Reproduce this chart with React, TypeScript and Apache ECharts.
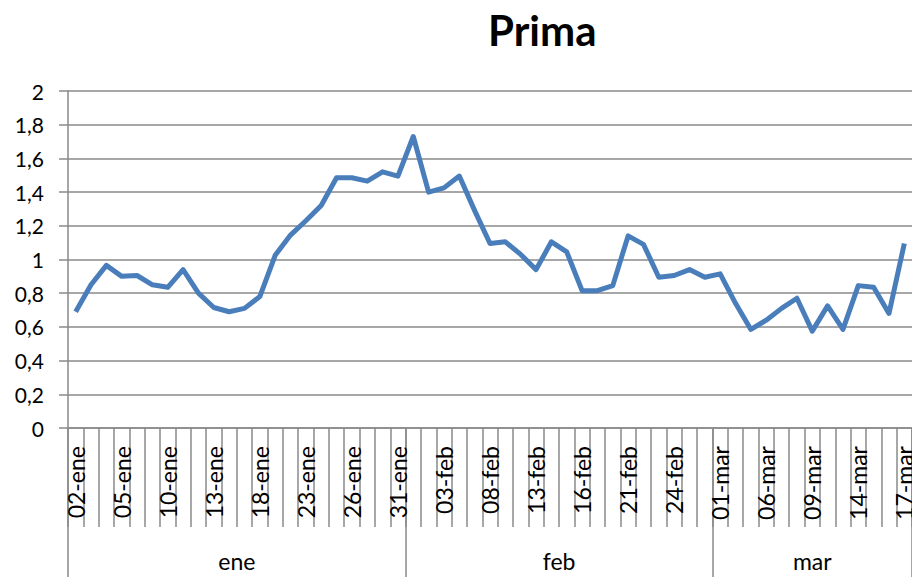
import React, { useEffect, useRef } from 'react';
import * as echarts from 'echarts';

const months = ['ene', 'feb', 'mar'];
const janDays = ['02', '03', '04', '05', '06', '09', '10', '11', '12', '13', '16', '17', '18', '19', '20', '23', '24', '25', '26', '27', '30', '31'];
const febDays = ['01', '02', '03', '06', '07', '08', '09', '10', '13', '14', '15', '16', '17', '20', '21', '22', '23', '24', '27', '28'];
const marDays = ['01', '02', '05', '06', '07', '08', '09', '12', '13', '14', '15', '16', '17'];
const monthDays = [janDays, febDays, marDays];

const values = [
  0.69, 0.85, 0.965, 0.9, 0.905, 0.85, 0.835, 0.94, 0.8, 0.715, 0.69, 0.71, 0.78, 1.025, 1.145, 1.23, 1.32, 1.485, 1.485, 1.465, 1.52, 1.495,
  1.73, 1.4, 1.425, 1.495, 1.29, 1.095, 1.105, 1.03, 0.94, 1.105, 1.045, 0.815, 0.815, 0.845, 1.14, 1.09, 0.895, 0.905, 0.94, 0.895,
  0.915, 0.74, 0.585, 0.64, 0.71, 0.77, 0.575, 0.725, 0.585, 0.845, 0.835, 0.68, 1.095,
];

const yTicks = { min: 0, max: 2, interval: 0.2 };

const dayCategories: string[] = [];
monthDays.forEach((days, m) => days.forEach((d) => dayCategories.push(d + '-' + months[m])));

// month level: half-category slots so that boundaries and month centres fall on points
const monthAxisData: string[] = new Array(dayCategories.length * 2 + 1).fill('');
const boundaries = new Set<number>();
let start = 0;
monthDays.forEach((days, m) => {
  boundaries.add(start * 2);
  monthAxisData[start * 2 + days.length] = months[m];
  start += days.length;
});
boundaries.add(start * 2);

const FONT = 'Lato, "Open Sans", sans-serif';
const GRAY = '#8a8a8a';
const lineStyle = { color: GRAY, width: 1.5 };

export default function App() {
  const ref = useRef<HTMLDivElement>(null);
  useEffect(() => {
    if (!ref.current) return;
    const chart = echarts.init(ref.current, null, { renderer: 'svg' });
    chart.setOption({
      animation: false,
      backgroundColor: '#fff',
      textStyle: { fontFamily: FONT },
      title: {
        text: 'Prima',
        left: 483,
        top: 4,
        textStyle: { fontSize: 42, fontWeight: 'bold', color: '#000', fontFamily: FONT },
      },
      grid: { left: 68, right: 0, top: 91, bottom: 149, outerBoundsMode: 'none', containLabel: false },
      xAxis: [
        {
          type: 'category',
          data: dayCategories,
          boundaryGap: true,
          axisLine: { show: true, lineStyle },
          axisTick: { show: true, interval: 0, length: 99, lineStyle },
          axisLabel: { interval: 2, rotate: 90, margin: 18, fontSize: 23, color: '#000', fontFamily: FONT },
          splitLine: { show: false },
        },
        {
          type: 'category',
          data: monthAxisData,
          boundaryGap: false,
          position: 'bottom',
          axisLine: { show: false },
          axisTick: { show: true, interval: (i: number) => boundaries.has(i), length: 152, lineStyle },
          axisLabel: { interval: 0, margin: 121, fontSize: 23, color: '#000', fontFamily: FONT },
          splitLine: { show: false },
        },
      ],
      yAxis: {
        type: 'value',
        min: yTicks.min,
        max: yTicks.max,
        interval: yTicks.interval,
        axisLine: { show: true, lineStyle },
        axisTick: { show: true, length: 9, lineStyle },
        splitLine: { show: true, lineStyle },
        axisLabel: {
          margin: 24,
          fontSize: 21,
          color: '#000',
          fontFamily: FONT,
          formatter: (v: number) => String(+v.toFixed(1)).replace('.', ','),
        },
      },
      series: [
        {
          type: 'line',
          data: values,
          xAxisIndex: 0,
          symbol: 'none',
          showSymbol: false,
          lineStyle: { color: '#4A7EBB', width: 5, join: 'round' },
          itemStyle: { color: '#4A7EBB' },
        },
      ],
    });
    return () => chart.dispose();
  }, []);
  return <div ref={ref} style={{ position: 'absolute', left: 0, top: 0, width: 912, height: 577 }} />;
}
